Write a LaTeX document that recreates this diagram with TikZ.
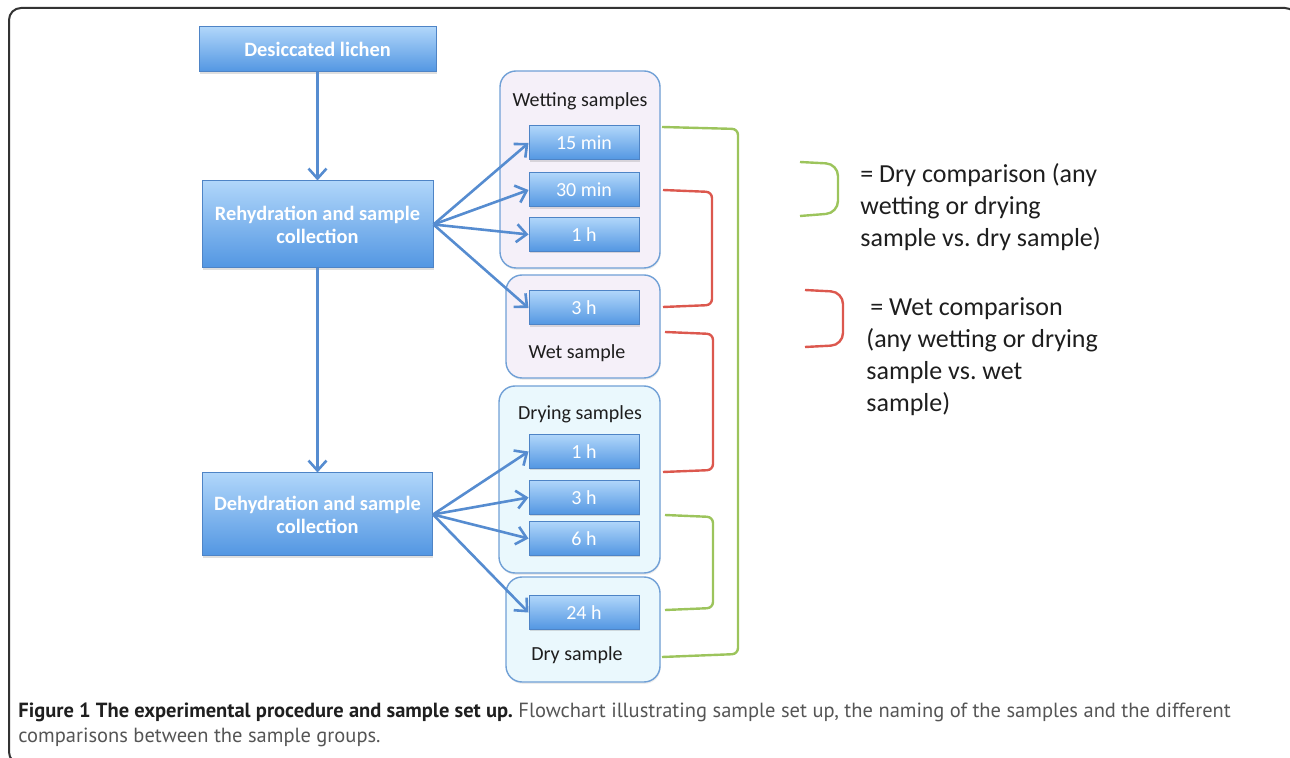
\documentclass[tikz,border=0pt]{standalone}
\usepackage{fontspec}
\setmainfont{Carlito}
\newfontfamily\capfont{PT Sans}
\usetikzlibrary{arrows.meta,shadows}

\definecolor{boxtop}{RGB}{176,214,250}
\definecolor{boxbot}{RGB}{82,150,226}
\definecolor{boxline}{RGB}{78,132,198}
\definecolor{grpline}{RGB}{112,160,214}
\definecolor{wetfill}{RGB}{245,240,249}
\definecolor{dryfill}{RGB}{234,248,253}
\definecolor{arrc}{RGB}{86,140,208}
\definecolor{brgreen}{RGB}{156,196,92}
\definecolor{brred}{RGB}{220,88,78}
\definecolor{txt}{RGB}{30,30,30}
\definecolor{capgray}{RGB}{85,85,85}

\begin{document}
\frenchspacing
\begin{tikzpicture}[x=0.5pt,y=-0.5pt,
  bigbox/.style={draw=boxline, line width=0.5pt, top color=boxtop, bottom color=boxbot,
    text=white, font=\bfseries\fontsize{10.2}{11.5}\selectfont, align=center, inner sep=0pt,
    drop shadow={shadow xshift=0.4pt, shadow yshift=-0.9pt, opacity=0.25}},
  smallbox/.style={draw=boxline, line width=0.5pt, top color=boxtop, bottom color=boxbot,
    text=white, font=\fontsize{10}{12}\selectfont, inner sep=0pt,
    minimum width=55pt, minimum height=17pt,
    drop shadow={shadow xshift=0.4pt, shadow yshift=-0.9pt, opacity=0.25}},
  grp/.style={draw=grpline, line width=0.7pt, rounded corners=8pt, inner sep=0pt,
    drop shadow={shadow xshift=0.3pt, shadow yshift=-0.9pt, opacity=0.15}},
  grplabel/.style={text=txt, font=\fontsize{10}{12}\selectfont, inner sep=0pt},
  arr/.style={draw=arrc, line width=1.3pt, -{Straight Barb[length=5pt,width=9pt]}},
  gbr/.style={draw=brgreen, line width=1.2pt, rounded corners=3pt},
  rbr/.style={draw=brred, line width=1.2pt, rounded corners=3pt},
  legtext/.style={anchor=base west, inner sep=0pt, text=txt}
]
\useasboundingbox (0,0) rectangle (1290,758);

% outer frame
\draw[line width=1pt, draw=black!80, rounded corners=6pt] (9,8) rectangle (1297,764);

% groups
\node[grp, fill=wetfill, minimum width=80pt, minimum height=98.5pt] (wetting) at (580,169.5) {};
\node[grp, fill=wetfill, minimum width=77pt, minimum height=51.5pt] (wet) at (583,326.5) {};
\node[grp, fill=dryfill, minimum width=80.5pt, minimum height=93.5pt] (drying) at (579.5,479.5) {};
\node[grp, fill=dryfill, minimum width=77pt, minimum height=52.5pt] (dry) at (583,629.5) {};

\node[grplabel] (lwetting) at (580,101) {Wetting samples};
\node[grplabel] (lwet) at (577,353) {Wet sample};
\node[grplabel] (ldrying) at (580,414) {Drying samples};
\node[grplabel] (ldry) at (577,655) {Dry sample};

% main boxes
\node[bigbox, minimum width=118.5pt, minimum height=22.5pt] (des) at (317.5,49.5) {Desiccated lichen};
\node[bigbox, minimum width=115.5pt, minimum height=43.5pt] (reh) at (317.5,224.5) {Rehydration and sample\\collection};
\node[bigbox, minimum width=115pt, minimum height=41.5pt] (deh) at (317.5,514.5) {Dehydration and sample\\collection};

% sample boxes
\node[smallbox] (b15) at (584,143) {15 min};
\node[smallbox] (b30) at (584,190) {30 min};
\node[smallbox] (b1) at (584,234.5) {1 h};
\node[smallbox] (b3w) at (584,308) {3 h};
\node[smallbox] (d1) at (584,451.5) {1 h};
\node[smallbox] (d3) at (584,497.5) {3 h};
\node[smallbox] (d6) at (584,538.5) {6 h};
\node[smallbox] (d24) at (584,612.5) {24 h};

% arrows
\draw[arr] (des.south) -- (reh.north);
\draw[arr] (reh.south) -- (deh.north);
\draw[arr] (reh.east) -- (b15.west);
\draw[arr] (reh.east) -- (b30.west);
\draw[arr] (reh.east) -- (b1.west);
\draw[arr] (reh.east) -- (b3w.west);
\draw[arr] (deh.east) -- (d1.west);
\draw[arr] (deh.east) -- (d3.west);
\draw[arr] (deh.east) -- (d6.west);
\draw[arr] (deh.east) -- (d24.west);

% bracket end points
\coordinate (g1a) at (662,127);
\coordinate (g1b) at (662,657);
\coordinate (r1a) at (663,190);
\coordinate (r1b) at (663,307);
\coordinate (r2a) at (665,332);
\coordinate (r2b) at (663,472);
\coordinate (g2a) at (665,515);
\coordinate (g2b) at (665,610);

\draw[gbr] (g1a) -- (738,129) -- (738,654) -- (g1b);
\draw[rbr] (r1a) -- (712,192) -- (712,305) -- (r1b);
\draw[rbr] (r2a) -- (713,334) -- (713,470) -- (r2b);
\draw[gbr] (g2a) -- (713,517) -- (713,608) -- (g2b);

% legend
\coordinate (lga) at (800,162);
\coordinate (lgb) at (800,216);
\coordinate (lra) at (805,290);
\coordinate (lrb) at (805,347);
\draw[gbr, rounded corners=6pt] (lga) -- (838,164) -- (838,213) -- (lgb);
\draw[rbr, rounded corners=6pt] (lra) -- (843,292) -- (843,345) -- (lrb);

\node[legtext] (legdry) at (860,183) {\parbox[t]{150pt}{\raggedright\fontsize{13}{16}\selectfont
 = Dry comparison (any\\wetting or drying\\sample vs. dry sample)}};
\node[legtext] (legwet) at (866,316) {\parbox[t]{150pt}{\raggedright\fontsize{13}{16}\selectfont
 \hspace{2pt}= Wet comparison\\(any wetting or drying\\sample vs. wet\\sample)}};

% caption
\node[legtext] (cap) at (18,717) {\parbox[t]{640pt}{\raggedright\capfont\fontsize{10.25}{12.5}\selectfont
 \textcolor{black!88}{\textbf{Figure 1 The experimental procedure and sample set up.}}
 \textcolor{capgray}{Flowchart illustrating sample set up, the naming of the samples and the different}\\
 \textcolor{capgray}{comparisons between the sample groups.}}};
\end{tikzpicture}
\end{document}
